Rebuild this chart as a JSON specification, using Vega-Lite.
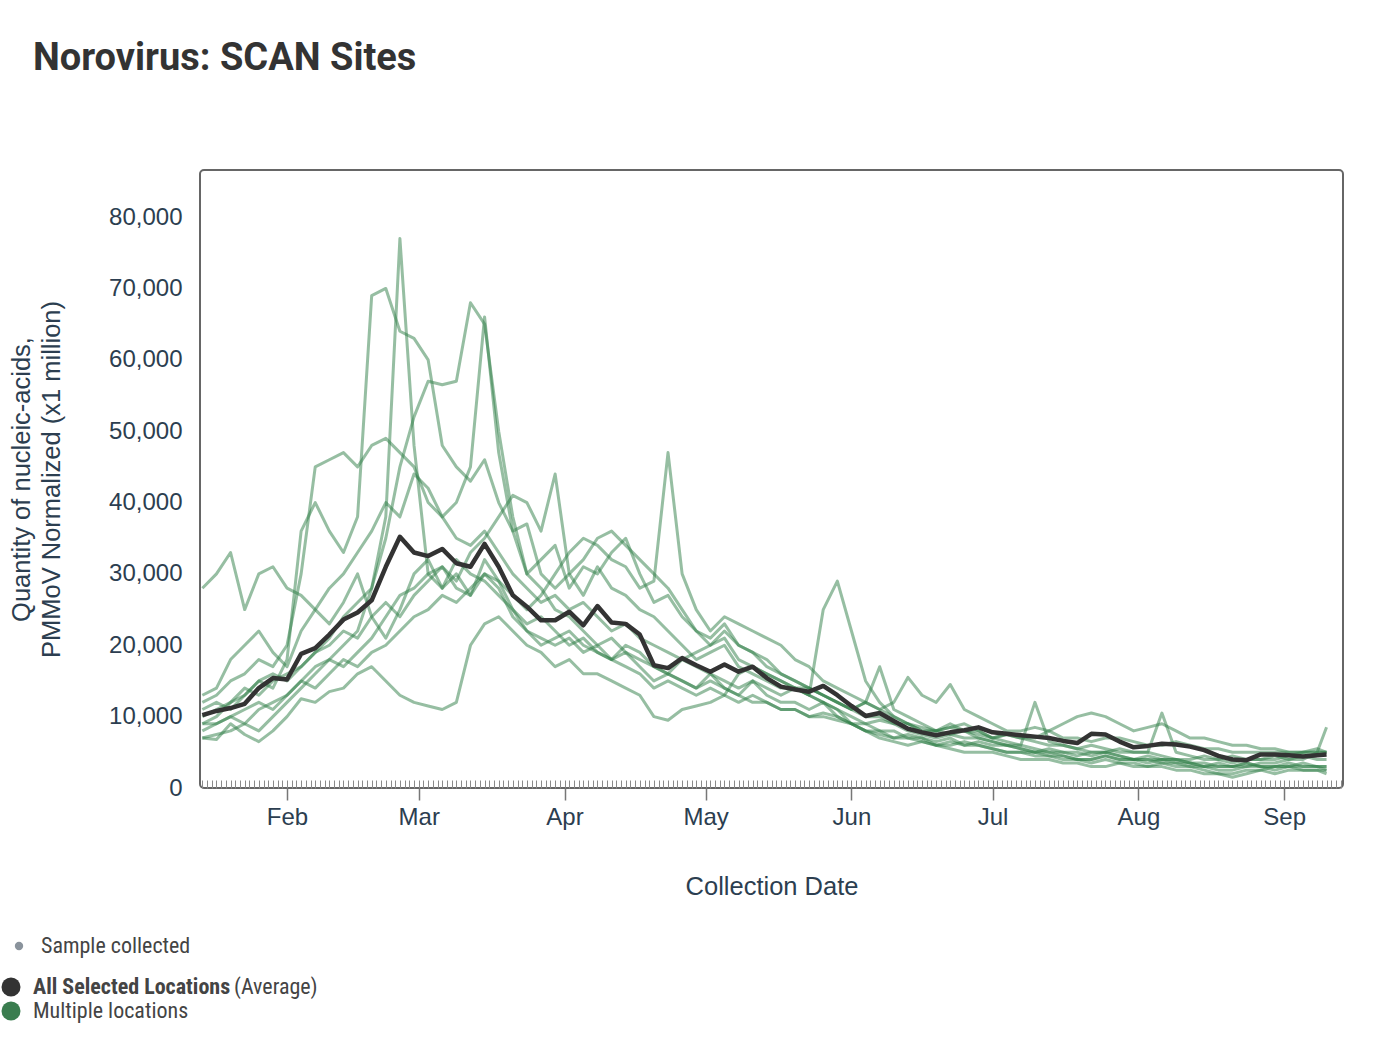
{
  "$schema": "https://vega.github.io/schema/vega-lite/v6.json",
  "width": 1143,
  "height": 618,
  "autosize": "none",
  "padding": {"left": 200, "top": 170, "right": 41, "bottom": 252},
  "title": {
    "text": "Norovirus: SCAN Sites",
    "anchor": "start",
    "frame": "group",
    "dx": -167,
    "offset": 62,
    "baseline": "alphabetic",
    "font": "Roboto",
    "fontSize": 38,
    "fontWeight": "bold",
    "color": "#333333"
  },
  "config": {
    "view": {"stroke": "#666666", "strokeWidth": 2, "cornerRadius": 4},
    "axis": {
      "labelFont": "Liberation Sans",
      "titleFont": "Liberation Sans",
      "labelColor": "#2c3e50",
      "titleColor": "#2c3e50",
      "titleFontWeight": "normal",
      "domain": false,
      "grid": false
    },
    "legend": {
      "labelFont": "Roboto Condensed, Liberation Sans Narrow, Roboto",
      "labelColor": "#444444",
      "labelFontSize": 22,
      "labelLimit": 500,
      "padding": 0
    }
  },
  "datasets": {
    "sites": [
      {"d": "2023-01-14", "a": 10200, "s1": 28000, "s2": 12000, "s3": 9000, "s4": 8000, "s5": 10000, "s6": 13000, "s7": 7000, "s8": 9000, "s9": 11000, "s10": 7000},
      {"d": "2023-01-17", "a": 10800, "s1": 30000, "s2": 13000, "s3": 10000, "s4": 9000, "s5": 11000, "s6": 14000, "s7": 7500, "s8": 9000, "s9": 12000, "s10": 6800},
      {"d": "2023-01-20", "a": 11200, "s1": 33000, "s2": 15000, "s3": 12000, "s4": 10000, "s5": 12000, "s6": 18000, "s7": 8000, "s8": 10000, "s9": 11000, "s10": 9000},
      {"d": "2023-01-23", "a": 11800, "s1": 25000, "s2": 16000, "s3": 13000, "s4": 9000, "s5": 14000, "s6": 20000, "s7": 9000, "s8": 11000, "s9": 13000, "s10": 7500},
      {"d": "2023-01-26", "a": 14000, "s1": 30000, "s2": 18000, "s3": 15000, "s4": 11000, "s5": 13000, "s6": 22000, "s7": 8000, "s8": 12000, "s9": 15000, "s10": 6500},
      {"d": "2023-01-29", "a": 15400, "s1": 31000, "s2": 17000, "s3": 14000, "s4": 12000, "s5": 15000, "s6": 19000, "s7": 10000, "s8": 11000, "s9": 16000, "s10": 8000},
      {"d": "2023-02-01", "a": 15200, "s1": 28000, "s2": 20000, "s3": 18000, "s4": 13000, "s5": 16000, "s6": 17000, "s7": 12000, "s8": 13000, "s9": 15000, "s10": 10000},
      {"d": "2023-02-04", "a": 18800, "s1": 27000, "s2": 30000, "s3": 36000, "s4": 15000, "s5": 17000, "s6": 22000, "s7": 14000, "s8": 15000, "s9": 17000, "s10": 12500},
      {"d": "2023-02-07", "a": 19600, "s1": 25000, "s2": 45000, "s3": 40000, "s4": 17000, "s5": 19000, "s6": 25000, "s7": 16000, "s8": 14000, "s9": 19000, "s10": 12000},
      {"d": "2023-02-10", "a": 21500, "s1": 23000, "s2": 46000, "s3": 36000, "s4": 18000, "s5": 21000, "s6": 28000, "s7": 18000, "s8": 16000, "s9": 20000, "s10": 13500},
      {"d": "2023-02-13", "a": 23600, "s1": 26000, "s2": 47000, "s3": 33000, "s4": 20000, "s5": 24000, "s6": 30000, "s7": 17000, "s8": 18000, "s9": 22000, "s10": 14000},
      {"d": "2023-02-16", "a": 24600, "s1": 30000, "s2": 45000, "s3": 38000, "s4": 22000, "s5": 26000, "s6": 33000, "s7": 19000, "s8": 17000, "s9": 21000, "s10": 16000},
      {"d": "2023-02-19", "a": 26300, "s1": 24000, "s2": 48000, "s3": 69000, "s4": 28000, "s5": 28000, "s6": 36000, "s7": 21000, "s8": 19000, "s9": 24000, "s10": 17000},
      {"d": "2023-02-22", "a": 31000, "s1": 21000, "s2": 49000, "s3": 70000, "s4": 38000, "s5": 35000, "s6": 40000, "s7": 24000, "s8": 20000, "s9": 26000, "s10": 15000},
      {"d": "2023-02-25", "a": 35200, "s1": 25000, "s2": 47000, "s3": 64000, "s4": 77000, "s5": 45000, "s6": 38000, "s7": 27000, "s8": 22000, "s9": 24000, "s10": 13000},
      {"d": "2023-02-28", "a": 33000, "s1": 30000, "s2": 45000, "s3": 63000, "s4": 48000, "s5": 52000, "s6": 44000, "s7": 28000, "s8": 24000, "s9": 27000, "s10": 12000},
      {"d": "2023-03-03", "a": 32500, "s1": 32000, "s2": 40000, "s3": 60000, "s4": 30000, "s5": 57000, "s6": 42000, "s7": 30000, "s8": 25000, "s9": 29000, "s10": 11500},
      {"d": "2023-03-06", "a": 33500, "s1": 28000, "s2": 38000, "s3": 48000, "s4": 28000, "s5": 56500, "s6": 38000, "s7": 31000, "s8": 27000, "s9": 31000, "s10": 11000},
      {"d": "2023-03-09", "a": 31500, "s1": 30000, "s2": 35000, "s3": 45000, "s4": 32000, "s5": 57000, "s6": 40000, "s7": 29000, "s8": 26000, "s9": 28000, "s10": 12000},
      {"d": "2023-03-12", "a": 31000, "s1": 27000, "s2": 34000, "s3": 43000, "s4": 30000, "s5": 68000, "s6": 45000, "s7": 33000, "s8": 28000, "s9": 27000, "s10": 20000},
      {"d": "2023-03-15", "a": 34200, "s1": 32000, "s2": 36000, "s3": 46000, "s4": 29000, "s5": 65000, "s6": 66000, "s7": 35000, "s8": 30000, "s9": 30000, "s10": 23000},
      {"d": "2023-03-18", "a": 31000, "s1": 29000, "s2": 33000, "s3": 40000, "s4": 27000, "s5": 50000, "s6": 47000, "s7": 38000, "s8": 29000, "s9": 28000, "s10": 24000},
      {"d": "2023-03-21", "a": 27000, "s1": 25000, "s2": 30000, "s3": 36000, "s4": 25000, "s5": 38000, "s6": 36000, "s7": 41000, "s8": 27000, "s9": 24000, "s10": 22000},
      {"d": "2023-03-24", "a": 25400, "s1": 22000, "s2": 28000, "s3": 30000, "s4": 23000, "s5": 30000, "s6": 37000, "s7": 40000, "s8": 25000, "s9": 22000, "s10": 20000},
      {"d": "2023-03-27", "a": 23500, "s1": 21000, "s2": 26000, "s3": 32000, "s4": 24000, "s5": 28000, "s6": 30000, "s7": 36000, "s8": 27000, "s9": 20000, "s10": 19000},
      {"d": "2023-03-30", "a": 23500, "s1": 20000, "s2": 27000, "s3": 34000, "s4": 22000, "s5": 25000, "s6": 28000, "s7": 44000, "s8": 30000, "s9": 21000, "s10": 17000},
      {"d": "2023-04-02", "a": 24700, "s1": 21000, "s2": 25000, "s3": 28000, "s4": 20000, "s5": 24000, "s6": 30000, "s7": 30000, "s8": 33000, "s9": 22000, "s10": 18000},
      {"d": "2023-04-05", "a": 22800, "s1": 19000, "s2": 26000, "s3": 31000, "s4": 21000, "s5": 22000, "s6": 27000, "s7": 32000, "s8": 35000, "s9": 20000, "s10": 16000},
      {"d": "2023-04-08", "a": 25500, "s1": 20000, "s2": 24000, "s3": 30000, "s4": 19000, "s5": 20000, "s6": 31000, "s7": 35000, "s8": 34000, "s9": 19000, "s10": 16000},
      {"d": "2023-04-11", "a": 23200, "s1": 18000, "s2": 22000, "s3": 33000, "s4": 18000, "s5": 21000, "s6": 28000, "s7": 36000, "s8": 32000, "s9": 18000, "s10": 15000},
      {"d": "2023-04-14", "a": 23000, "s1": 19000, "s2": 23000, "s3": 35000, "s4": 17000, "s5": 19000, "s6": 27000, "s7": 34000, "s8": 31000, "s9": 20000, "s10": 14000},
      {"d": "2023-04-17", "a": 21500, "s1": 17000, "s2": 21000, "s3": 30000, "s4": 16000, "s5": 18000, "s6": 25000, "s7": 32000, "s8": 28000, "s9": 19000, "s10": 13000},
      {"d": "2023-04-20", "a": 17200, "s1": 15000, "s2": 20000, "s3": 26000, "s4": 14000, "s5": 17000, "s6": 24000, "s7": 30000, "s8": 29000, "s9": 17000, "s10": 10000},
      {"d": "2023-04-23", "a": 16800, "s1": 16000, "s2": 19000, "s3": 27000, "s4": 15000, "s5": 16000, "s6": 22000, "s7": 28000, "s8": 47000, "s9": 16000, "s10": 9500},
      {"d": "2023-04-26", "a": 18200, "s1": 15000, "s2": 18000, "s3": 24000, "s4": 14000, "s5": 15000, "s6": 20000, "s7": 25000, "s8": 30000, "s9": 18000, "s10": 11000},
      {"d": "2023-04-29", "a": 17200, "s1": 14000, "s2": 19000, "s3": 22000, "s4": 13000, "s5": 14000, "s6": 18000, "s7": 22000, "s8": 25000, "s9": 17000, "s10": 11500},
      {"d": "2023-05-02", "a": 16300, "s1": 16000, "s2": 20000, "s3": 20000, "s4": 14000, "s5": 15000, "s6": 19000, "s7": 21000, "s8": 22000, "s9": 16000, "s10": 12000},
      {"d": "2023-05-05", "a": 17300, "s1": 14000, "s2": 21000, "s3": 22000, "s4": 13000, "s5": 14000, "s6": 20000, "s7": 23000, "s8": 24000, "s9": 15000, "s10": 13000},
      {"d": "2023-05-08", "a": 16300, "s1": 13000, "s2": 18000, "s3": 20000, "s4": 12000, "s5": 13000, "s6": 17000, "s7": 20000, "s8": 23000, "s9": 14000, "s10": 16000},
      {"d": "2023-05-11", "a": 17000, "s1": 15000, "s2": 17000, "s3": 19000, "s4": 13000, "s5": 12000, "s6": 16000, "s7": 19000, "s8": 22000, "s9": 15000, "s10": 17000},
      {"d": "2023-05-14", "a": 15400, "s1": 13000, "s2": 16000, "s3": 17000, "s4": 12000, "s5": 12000, "s6": 15000, "s7": 18000, "s8": 21000, "s9": 14000, "s10": 16000},
      {"d": "2023-05-17", "a": 14200, "s1": 12000, "s2": 15000, "s3": 16000, "s4": 11000, "s5": 11000, "s6": 14000, "s7": 16000, "s8": 20000, "s9": 13000, "s10": 15000},
      {"d": "2023-05-20", "a": 13800, "s1": 12000, "s2": 14000, "s3": 15000, "s4": 11000, "s5": 11000, "s6": 14000, "s7": 15000, "s8": 18000, "s9": 14000, "s10": 14000},
      {"d": "2023-05-23", "a": 13500, "s1": 11000, "s2": 14000, "s3": 14000, "s4": 10000, "s5": 10000, "s6": 13000, "s7": 14000, "s8": 17000, "s9": 13000, "s10": 13000},
      {"d": "2023-05-26", "a": 14300, "s1": 12000, "s2": 13000, "s3": 13000, "s4": 10500, "s5": 10000, "s6": 12000, "s7": 13000, "s8": 15000, "s9": 25000, "s10": 12000},
      {"d": "2023-05-29", "a": 13000, "s1": 10000, "s2": 12000, "s3": 12000, "s4": 10000, "s5": 9500, "s6": 11000, "s7": 12000, "s8": 14000, "s9": 29000, "s10": 11000},
      {"d": "2023-06-01", "a": 11500, "s1": 9000, "s2": 11000, "s3": 11000, "s4": 9000, "s5": 9000, "s6": 10000, "s7": 11000, "s8": 13000, "s9": 22000, "s10": 9000},
      {"d": "2023-06-04", "a": 10100, "s1": 9000, "s2": 10000, "s3": 12000, "s4": 8000, "s5": 8000, "s6": 9000, "s7": 12000, "s8": 12000, "s9": 15000, "s10": 8000},
      {"d": "2023-06-07", "a": 10500, "s1": 8000, "s2": 10000, "s3": 11000, "s4": 7500, "s5": 8000, "s6": 9500, "s7": 17000, "s8": 11000, "s9": 12000, "s10": 7000},
      {"d": "2023-06-10", "a": 9400, "s1": 8000, "s2": 9000, "s3": 10000, "s4": 7000, "s5": 7000, "s6": 9000, "s7": 11000, "s8": 12000, "s9": 10000, "s10": 6500},
      {"d": "2023-06-13", "a": 8300, "s1": 7000, "s2": 9000, "s3": 9000, "s4": 7500, "s5": 7000, "s6": 8000, "s7": 10000, "s8": 15500, "s9": 9000, "s10": 6000},
      {"d": "2023-06-16", "a": 7800, "s1": 7000, "s2": 8000, "s3": 8500, "s4": 7000, "s5": 6500, "s6": 7500, "s7": 9000, "s8": 13000, "s9": 8000, "s10": 6500},
      {"d": "2023-06-19", "a": 7400, "s1": 6500, "s2": 8000, "s3": 8000, "s4": 6000, "s5": 6000, "s6": 7000, "s7": 8000, "s8": 12000, "s9": 8000, "s10": 6000},
      {"d": "2023-06-22", "a": 7800, "s1": 7000, "s2": 8500, "s3": 9000, "s4": 6500, "s5": 6000, "s6": 7500, "s7": 8500, "s8": 14500, "s9": 7500, "s10": 5500},
      {"d": "2023-06-25", "a": 8100, "s1": 6000, "s2": 8000, "s3": 8000, "s4": 6000, "s5": 6500, "s6": 8000, "s7": 9000, "s8": 11000, "s9": 7000, "s10": 5000},
      {"d": "2023-06-28", "a": 8500, "s1": 6500, "s2": 7500, "s3": 8000, "s4": 6000, "s5": 6000, "s6": 7000, "s7": 8000, "s8": 10000, "s9": 7000, "s10": 5000},
      {"d": "2023-07-01", "a": 7800, "s1": 6000, "s2": 7000, "s3": 7000, "s4": 5500, "s5": 5500, "s6": 6500, "s7": 7000, "s8": 9000, "s9": 6500, "s10": 5000},
      {"d": "2023-07-04", "a": 7600, "s1": 6000, "s2": 7500, "s3": 6500, "s4": 5000, "s5": 5000, "s6": 6000, "s7": 7500, "s8": 8000, "s9": 6000, "s10": 4500},
      {"d": "2023-07-07", "a": 7400, "s1": 5500, "s2": 7000, "s3": 6000, "s4": 5000, "s5": 5000, "s6": 6000, "s7": 7000, "s8": 8000, "s9": 5500, "s10": 4000},
      {"d": "2023-07-10", "a": 7200, "s1": 5000, "s2": 7000, "s3": 12000, "s4": 4500, "s5": 5000, "s6": 5500, "s7": 6500, "s8": 8500, "s9": 5000, "s10": 4000},
      {"d": "2023-07-13", "a": 7000, "s1": 5500, "s2": 8000, "s3": 6500, "s4": 4500, "s5": 4500, "s6": 5000, "s7": 6000, "s8": 8000, "s9": 5000, "s10": 4000},
      {"d": "2023-07-16", "a": 6600, "s1": 5000, "s2": 9000, "s3": 6000, "s4": 4000, "s5": 4500, "s6": 5000, "s7": 6000, "s8": 7000, "s9": 4500, "s10": 3500},
      {"d": "2023-07-19", "a": 6300, "s1": 5000, "s2": 10000, "s3": 5500, "s4": 4000, "s5": 4000, "s6": 4500, "s7": 5500, "s8": 7000, "s9": 4000, "s10": 3500},
      {"d": "2023-07-22", "a": 7600, "s1": 4500, "s2": 10500, "s3": 5000, "s4": 3500, "s5": 4000, "s6": 5000, "s7": 6000, "s8": 6500, "s9": 4000, "s10": 3000},
      {"d": "2023-07-25", "a": 7500, "s1": 5000, "s2": 10000, "s3": 5000, "s4": 4000, "s5": 4500, "s6": 5000, "s7": 5500, "s8": 7000, "s9": 4500, "s10": 3000},
      {"d": "2023-07-28", "a": 6500, "s1": 4500, "s2": 9000, "s3": 5500, "s4": 3500, "s5": 4000, "s6": 4500, "s7": 5000, "s8": 7000, "s9": 4000, "s10": 3500},
      {"d": "2023-07-31", "a": 5700, "s1": 4000, "s2": 8000, "s3": 5000, "s4": 3500, "s5": 4000, "s6": 4000, "s7": 5000, "s8": 6500, "s9": 4000, "s10": 3000},
      {"d": "2023-08-03", "a": 5900, "s1": 4500, "s2": 8500, "s3": 5000, "s4": 3000, "s5": 4000, "s6": 4000, "s7": 5000, "s8": 6000, "s9": 3500, "s10": 3000},
      {"d": "2023-08-06", "a": 6200, "s1": 4000, "s2": 9000, "s3": 4500, "s4": 3500, "s5": 3500, "s6": 4000, "s7": 10500, "s8": 6000, "s9": 4000, "s10": 3000},
      {"d": "2023-08-09", "a": 6100, "s1": 4000, "s2": 8000, "s3": 4000, "s4": 3000, "s5": 3500, "s6": 3500, "s7": 5000, "s8": 6500, "s9": 4000, "s10": 2500},
      {"d": "2023-08-12", "a": 5800, "s1": 3500, "s2": 7000, "s3": 4000, "s4": 3000, "s5": 3000, "s6": 3500, "s7": 4500, "s8": 6000, "s9": 3500, "s10": 2500},
      {"d": "2023-08-15", "a": 5300, "s1": 3500, "s2": 7000, "s3": 4500, "s4": 2500, "s5": 3000, "s6": 3000, "s7": 4000, "s8": 5500, "s9": 3000, "s10": 2000},
      {"d": "2023-08-18", "a": 4500, "s1": 3000, "s2": 6500, "s3": 4000, "s4": 2000, "s5": 3000, "s6": 3500, "s7": 4000, "s8": 5500, "s9": 2500, "s10": 2000},
      {"d": "2023-08-21", "a": 4000, "s1": 3000, "s2": 6000, "s3": 3500, "s4": 1500, "s5": 3000, "s6": 3000, "s7": 4500, "s8": 5000, "s9": 2500, "s10": 2000},
      {"d": "2023-08-24", "a": 3900, "s1": 3500, "s2": 6000, "s3": 4000, "s4": 2000, "s5": 3500, "s6": 3000, "s7": 4000, "s8": 5000, "s9": 3000, "s10": 2500},
      {"d": "2023-08-27", "a": 4700, "s1": 3000, "s2": 5500, "s3": 4000, "s4": 2500, "s5": 3000, "s6": 3500, "s7": 4000, "s8": 5000, "s9": 3000, "s10": 2500},
      {"d": "2023-08-30", "a": 4700, "s1": 3000, "s2": 5500, "s3": 4500, "s4": 3000, "s5": 3000, "s6": 3500, "s7": 4000, "s8": 5000, "s9": 2500, "s10": 2000},
      {"d": "2023-09-02", "a": 4600, "s1": 3500, "s2": 5000, "s3": 4000, "s4": 3000, "s5": 3000, "s6": 4000, "s7": 4500, "s8": 5000, "s9": 3000, "s10": 2500},
      {"d": "2023-09-05", "a": 4400, "s1": 3000, "s2": 5000, "s3": 4500, "s4": 3500, "s5": 2500, "s6": 4000, "s7": 5000, "s8": 5000, "s9": 3000, "s10": 2500},
      {"d": "2023-09-08", "a": 4600, "s1": 3000, "s2": 5000, "s3": 4000, "s4": 3000, "s5": 2500, "s6": 5000, "s7": 5000, "s8": 5500, "s9": 3000, "s10": 2500},
      {"d": "2023-09-10", "a": 4700, "s1": 2500, "s2": 5000, "s3": 4000, "s4": 3000, "s5": 2500, "s6": 8500, "s7": 5000, "s8": 5000, "s9": 3000, "s10": 2000}
    ]
  },
  "layer": [
    {
      "data": {"name": "sites"},
      "transform": [
        {"fold": ["s1", "s2", "s3", "s4", "s5", "s6", "s7", "s8", "s9", "s10"], "as": ["site", "v"]}
      ],
      "mark": {"type": "line", "color": "#2e7d46", "opacity": 0.5, "strokeWidth": 3, "strokeJoin": "round"},
      "encoding": {
        "x": {
          "field": "d",
          "type": "temporal",
          "scale": {
            "type": "utc",
            "domain": [
              {"year": 2023, "month": 1, "date": 13, "hours": 12, "utc": true},
              {"year": 2023, "month": 9, "date": 13, "hours": 12, "utc": true}
            ]
          },
          "axis": {
            "orient": "bottom",
            "tickCount": {"interval": "day", "step": 1},
            "labels": false,
            "title": null,
            "tickSize": -8,
            "tickColor": "#8a8a8a",
            "tickWidth": 1
          }
        },
        "y": {
          "field": "v",
          "type": "quantitative",
          "scale": {"domain": [0, 86600], "nice": false},
          "axis": {
            "values": [0, 10000, 20000, 30000, 40000, 50000, 60000, 70000, 80000],
            "format": ",.0f",
            "ticks": false,
            "labelFontSize": 24,
            "labelPadding": 18,
            "title": ["Quantity of nucleic-acids,", "PMMoV Normalized (x1 million)"],
            "titleFontSize": 25.5,
            "titleLineHeight": 30,
            "titlePadding": 44
          }
        },
        "detail": {"field": "site"}
      }
    },
    {
      "data": {"name": "sites"},
      "mark": {"type": "line", "color": "#333333", "strokeWidth": 4.5, "strokeJoin": "round"},
      "encoding": {
        "x": {
          "field": "d",
          "type": "temporal",
          "axis": {
            "orient": "bottom",
            "tickCount": {"interval": "month", "step": 1},
            "format": "%b",
            "labelFontSize": 24,
            "labelPadding": 5,
            "tickSize": 12,
            "tickColor": "#777777",
            "tickWidth": 1.5,
            "title": "Collection Date",
            "titleFontSize": 25.5,
            "titlePadding": 45
          }
        },
        "y": {
          "field": "a",
          "type": "quantitative",
          "axis": {
            "values": [0, 10000, 20000, 30000, 40000, 50000, 60000, 70000, 80000],
            "format": ",.0f",
            "ticks": false,
            "labelFontSize": 24,
            "labelPadding": 18,
            "title": ["Quantity of nucleic-acids,", "PMMoV Normalized (x1 million)"],
            "titleFontSize": 25.5,
            "titleLineHeight": 30,
            "titlePadding": 44
          }
        }
      }
    },
    {
      "data": {"values": [{"k": "All Selected Locations"}, {"k": "Multiple locations"}]},
      "mark": {"type": "point", "filled": true, "opacity": 0},
      "encoding": {
        "color": {
          "field": "k",
          "type": "nominal",
          "scale": {"domain": ["All Selected Locations", "Multiple locations"], "range": ["#333333", "#3a7d4f"]},
          "legend": {
            "orient": "none",
            "legendX": -200,
            "legendY": 806,
            "title": null,
            "symbolType": "circle",
            "symbolSize": 361,
            "symbolOpacity": 1,
            "symbolStrokeWidth": 0,
            "labelOffset": 11,
            "rowPadding": 2,
            "encode": {
              "symbols": {"update": {"opacity": {"value": 1}}},
              "labels": {"update": {"fontWeight": {"signal": "datum.label === 'All Selected Locations' ? 'bold' : 'normal'"}}}
            }
          }
        },
        "shape": {
          "datum": "Sample collected",
          "scale": {"range": ["circle"]},
          "legend": {
            "orient": "none",
            "legendX": -192,
            "legendY": 765,
            "title": null,
            "symbolSize": 70,
            "symbolFillColor": "#8a939c",
            "symbolOpacity": 1,
            "symbolStrokeWidth": 0,
            "labelOffset": 11,
            "encode": {
              "symbols": {"update": {"fill": {"value": "#8a939c"}, "opacity": {"value": 1}}}
            }
          }
        },
        "strokeDash": {
          "datum": "(Average)",
          "legend": {
            "orient": "none",
            "legendX": 12,
            "legendY": 806,
            "title": null,
            "symbolSize": 1,
            "symbolOpacity": 0,
            "labelOffset": 0,
            "encode": {
              "symbols": {"update": {"opacity": {"value": 0}}}
            }
          }
        }
      }
    }
  ],
  "resolve": {"axis": {"x": "independent"}}
}
